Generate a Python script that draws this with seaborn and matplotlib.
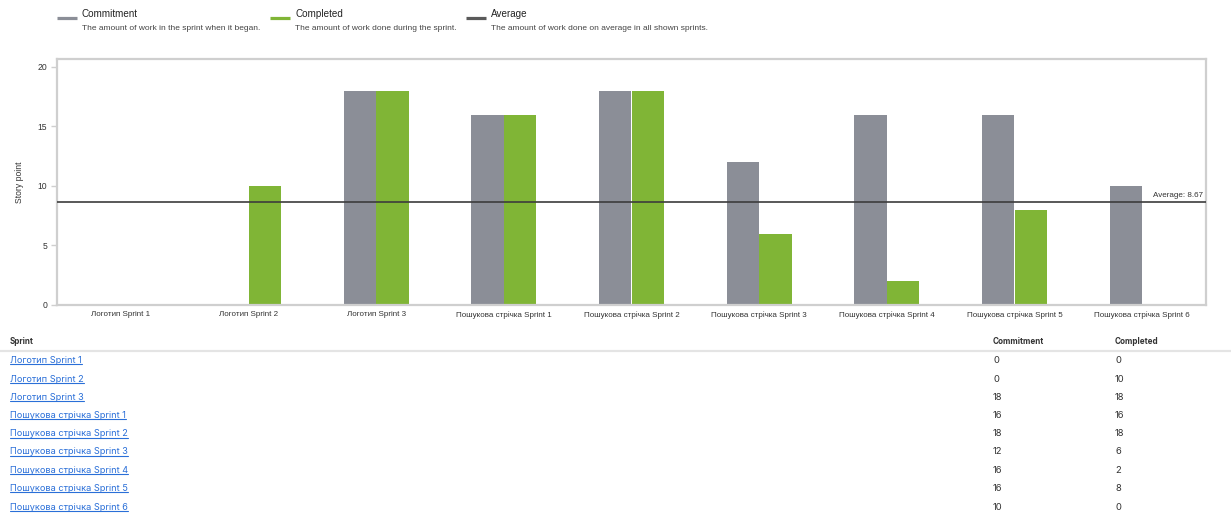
import numpy as np
import pandas as pd
import matplotlib
matplotlib.use("Agg")
import matplotlib.pyplot as plt
from matplotlib.lines import Line2D
import seaborn as sns

sprints = ["Логотип Sprint 1", "Логотип Sprint 2", "Логотип Sprint 3",
           "Пошукова стрічка Sprint 1", "Пошукова стрічка Sprint 2",
           "Пошукова стрічка Sprint 3", "Пошукова стрічка Sprint 4",
           "Пошукова стрічка Sprint 5", "Пошукова стрічка Sprint 6"]
commitment = [0, 0, 18, 16, 18, 12, 16, 16, 10]
completed = [0, 10, 18, 16, 18, 6, 2, 8, 0]
series_names = ["Commitment", "Completed", "Average"]
series_desc = ["The amount of work in the sprint when it began.",
               "The amount of work done during the sprint.",
               "The amount of work done on average in all shown sprints."]
y_ticks = [0, 5, 10, 15, 20]

GRAY = "#8b8e97"
GREEN = "#80b536"
AVG = "#3c3c3c"
SPINE = "#cfcfcf"
TXT = "#333333"
LINK = "#2a6fd8"

sns.set_style("white")
plt.rcParams["font.family"] = ["Liberation Sans", "DejaVu Sans"]

W, H = 1231, 513
fig = plt.figure(figsize=(W / 100, H / 100), dpi=100)

def fx(px):
    return px / W

def fy(py):
    return 1 - py / H

ax = fig.add_axes([fx(57), fy(305), fx(1206 - 57), (305 - 59) / H])

df = pd.DataFrame({
    "Sprint": sprints * 2,
    "Series": ["Commitment"] * len(sprints) + ["Completed"] * len(sprints),
    "Value": commitment + completed,
})
sns.barplot(data=df, x="Sprint", y="Value", hue="Series",
            hue_order=["Commitment", "Completed"],
            palette={"Commitment": GRAY, "Completed": GREEN},
            width=0.51, saturation=1, ax=ax, legend=False,
            linewidth=0, edgecolor="none")

avg = float(np.mean(completed))
ax.axhline(avg, color=AVG, lw=1.2, zorder=5)
ax.text(len(sprints) - 0.5 - 0.025, avg + 0.25, f"Average: {avg:.2f}",
        ha="right", va="bottom", fontsize=5.8, color=TXT)

ax.set_xlim(-0.5, len(sprints) - 0.5)
ax.set_ylim(0, 20.67)
ax.set_yticks(y_ticks)
ax.set_yticklabels([str(v) for v in y_ticks], fontsize=6.2, color=TXT)
ax.set_xticks(range(len(sprints)))
ax.set_xticklabels(sprints, fontsize=5.8, color=TXT)
ax.set_xticks(np.arange(0.5, len(sprints) - 0.5, 1), minor=True)
ax.tick_params(axis="x", which="major", length=0, pad=4.5)
ax.tick_params(axis="x", which="minor", length=4, color=SPINE, width=1)
ax.tick_params(axis="y", length=4, color=SPINE, width=1, pad=3, left=True)
ax.set_xlabel("")
ax.set_ylabel("Story point", fontsize=6.2, color=TXT, labelpad=10)
for s in ax.spines.values():
    s.set_color(SPINE)
    s.set_linewidth(1.6)

# Legend at top
leg_x = [57, 270, 466]
leg_cols = [GRAY, GREEN, "#5a5a5a"]
for x0, name, desc, col in zip(leg_x, series_names, series_desc, leg_cols):
    fig.add_artist(Line2D([fx(x0), fx(x0 + 20)], [fy(18), fy(18)],
                          color=col, lw=2.3, solid_capstyle="butt",
                          transform=fig.transFigure))
    fig.text(fx(x0 + 25), fy(14), name, fontsize=7.1, color="#222222",
             va="center", ha="left")
    fig.text(fx(x0 + 25), fy(28.5), desc, fontsize=6.0, color="#444444",
             va="center", ha="left")

# Table below
TF = ["Inter", "DejaVu Sans"]
fig.text(fx(10), fy(342), "Sprint", fontsize=5.8, fontweight="bold",
         color="#333333", va="center", family=TF)
fig.text(fx(993), fy(342), "Commitment", fontsize=5.8, fontweight="bold",
         color="#333333", va="center", family=TF)
fig.text(fx(1115), fy(342), "Completed", fontsize=5.8, fontweight="bold",
         color="#333333", va="center", family=TF)
fig.add_artist(Line2D([0, 1], [fy(350.5), fy(350.5)], color="#e4e4e4",
                      lw=1.6, transform=fig.transFigure))

row_y = [360.5, 379, 397, 415.5, 434, 452, 470.5, 488.5, 507]
link_texts = []
for y, name, c, d in zip(row_y, sprints, commitment, completed):
    t = fig.text(fx(10), fy(y), name, fontsize=6.6, color=LINK, va="center",
                 family=TF)
    link_texts.append(t)
    fig.text(fx(993), fy(y), str(c), fontsize=6.8, color="#333333",
             va="center", family=TF)
    fig.text(fx(1115), fy(y), str(d), fontsize=6.8, color="#333333",
             va="center", family=TF)

fig.canvas.draw()
r = fig.canvas.get_renderer()
for t in link_texts:
    bb = t.get_window_extent(renderer=r)
    yb = bb.y0 + 1.0
    fig.add_artist(Line2D([bb.x0 / W, bb.x1 / W], [yb / H, yb / H],
                          color=LINK, lw=0.8, transform=fig.transFigure))

fig.savefig("out.png", dpi=100)
